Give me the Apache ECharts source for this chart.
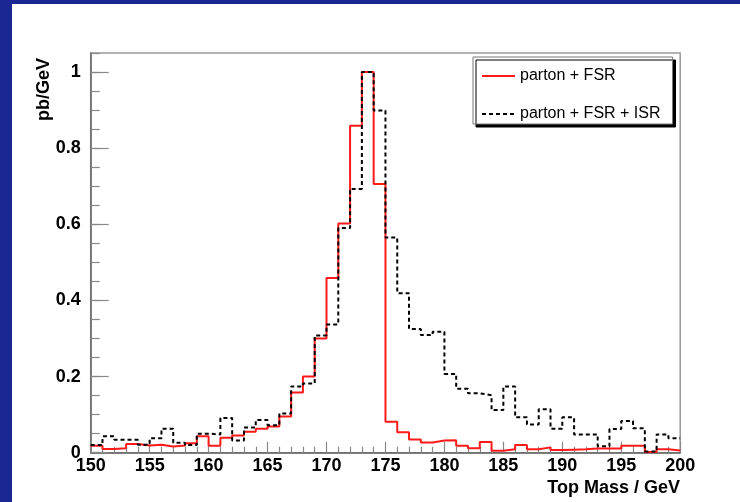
<!DOCTYPE html>
<html>
<head>
<meta charset="utf-8">
<script src="https://cdn.jsdelivr.net/npm/echarts@6/dist/echarts.min.js"></script>
<style>
html,body{margin:0;padding:0;background:#fff;}
#wrap{position:relative;width:740px;height:502px;overflow:hidden;background:#fff;}
#bl{position:absolute;left:0;top:0;width:12px;height:502px;background:#1b2894;}
#bt{position:absolute;left:0;top:0;width:740px;height:4px;background:#1b2894;}
#chart{position:absolute;left:0;top:0;width:740px;height:502px;}
</style>
</head>
<body>
<div id="wrap"><div id="bl"></div><div id="bt"></div><div id="chart"></div></div>
<script>
// Bin lower edges (1 GeV bins, 150..199)
const binEdges = [150,151,152,153,154,155,156,157,158,159,160,161,162,163,164,165,166,167,168,169,
  170,171,172,173,174,175,176,177,178,179,180,181,182,183,184,185,186,187,188,189,
  190,191,192,193,194,195,196,197,198,199];
const upperEdge = 200;
const seriesNames = ['parton + FSR', 'parton + FSR + ISR'];
const partonFSR = [0.018,0.010,0.012,0.023,0.019,0.021,0.016,0.019,0.025,0.043,
  0.018,0.039,0.045,0.055,0.063,0.069,0.095,0.158,0.200,0.300,
  0.459,0.602,0.859,1.000,0.706,0.081,0.054,0.035,0.027,0.032,
  0.033,0.018,0.012,0.028,0.005,0.009,0.020,0.009,0.014,0.007,
  0.008,0.009,0.011,0.011,0.011,0.018,0.018,0.002,0.009,0.006];
const partonFSRISR = [0.020,0.043,0.034,0.034,0.021,0.038,0.063,0.026,0.020,0.050,
  0.048,0.091,0.032,0.066,0.086,0.072,0.103,0.174,0.182,0.308,
  0.337,0.590,0.693,1.000,0.899,0.565,0.419,0.325,0.309,0.318,
  0.207,0.168,0.156,0.151,0.112,0.174,0.093,0.074,0.114,0.063,
  0.093,0.048,0.048,0.017,0.062,0.083,0.064,0.003,0.048,0.038];
const xTicks = [150,155,160,165,170,175,180,185,190,195,200];
const yTicks = [0,0.2,0.4,0.6,0.8,1];
const xTitle = 'Top Mass / GeV';
const yTitle = 'pb/GeV';

function histPoints(vals){
  const pts = binEdges.map((x,i)=>[x, vals[i]]);
  pts.push([upperEdge, vals[vals.length-1]]);
  return pts;
}
const FONT = '"Liberation Sans", Arial, Helvetica, sans-serif';
const chart = echarts.init(document.getElementById('chart'), null, {renderer:'canvas'});
chart.setOption({
  backgroundColor: 'transparent',
  animation: false,
  grid: {left: 90.7, right: 59.8, top: 53, bottom: 49.3, show: true, borderColor: '#999', borderWidth: 1.5, backgroundColor: 'transparent'},
  legend: {
    orient: 'vertical', left: 473, top: 57,
    padding: [11, 12, 2, 8], itemGap: 22, itemWidth: 33, itemHeight: 14,
    backgroundColor: '#fff', borderColor: '#777', borderWidth: 1,
    shadowColor: '#000', shadowOffsetX: 3, shadowOffsetY: 3, shadowBlur: 0,
    itemStyle: {opacity: 0},
    textStyle: {fontFamily: FONT, fontSize: 16, color: '#000'},
    data: seriesNames
  },
  xAxis: {
    type: 'value', min: xTicks[0], max: xTicks[xTicks.length-1], interval: 5,
    axisLine: {show: true, onZero: false, lineStyle: {color: '#666', width: 1.5}},
    axisTick: {show: true, inside: true, length: 11, lineStyle: {color: '#888', width: 1.2}},
    minorTick: {show: true, splitNumber: 5, length: 6, lineStyle: {color: '#888', width: 1.2}},
    splitLine: {show: false},
    axisLabel: {fontFamily: FONT, fontWeight: 'bold', fontSize: 18, color: '#000', margin: 4, showMinLabel: true, showMaxLabel: true}
  },
  yAxis: [{
    type: 'value', min: 0, max: 1.05, interval: 0.2,
    axisLine: {show: true, onZero: false, lineStyle: {color: '#666', width: 1.5}},
    axisTick: {show: true, inside: true, length: 18, lineStyle: {color: '#888', width: 1.2}},
    splitLine: {show: false},
    axisLabel: {fontFamily: FONT, fontWeight: 'bold', fontSize: 18, color: '#000', margin: 10, showMaxLabel: false,
      formatter: function(v){ const t = yTicks.find(y=>Math.abs(y-v)<1e-6); if (t===undefined) return ''; return t===0||t===1 ? String(t) : t.toFixed(1); }}
  },{
    type: 'value', min: 0, max: 1.05, interval: 0.05, position: 'left',
    axisLine: {show: false},
    axisTick: {show: true, inside: true, length: 9, lineStyle: {color: '#888', width: 1.2}},
    splitLine: {show: false},
    axisLabel: {show: false}
  }],
  series: [{
    name: seriesNames[0], type: 'line', step: 'end', symbol: 'none', yAxisIndex: 0,
    lineStyle: {color: '#ff1a1a', width: 2}, itemStyle: {color: '#ff1a1a'},
    data: histPoints(partonFSR), z: 3
  },{
    name: seriesNames[1], type: 'line', step: 'end', symbol: 'none', yAxisIndex: 0,
    lineStyle: {color: '#000', width: 2, type: [4, 3]}, itemStyle: {color: '#000'},
    data: histPoints(partonFSRISR), z: 4
  }],
  graphic: [{
    type: 'text', right: 60, top: 479,
    style: {text: xTitle, fontFamily: FONT, fontWeight: 'bold', fontSize: 18, fill: '#000'}
  },{
    type: 'text', x: 44, y: 58, rotation: Math.PI/2,
    style: {text: yTitle, fontFamily: FONT, fontWeight: 'bold', fontSize: 18, fill: '#000', align: 'right', verticalAlign: 'middle'}
  }]
});
</script>
</body>
</html>
